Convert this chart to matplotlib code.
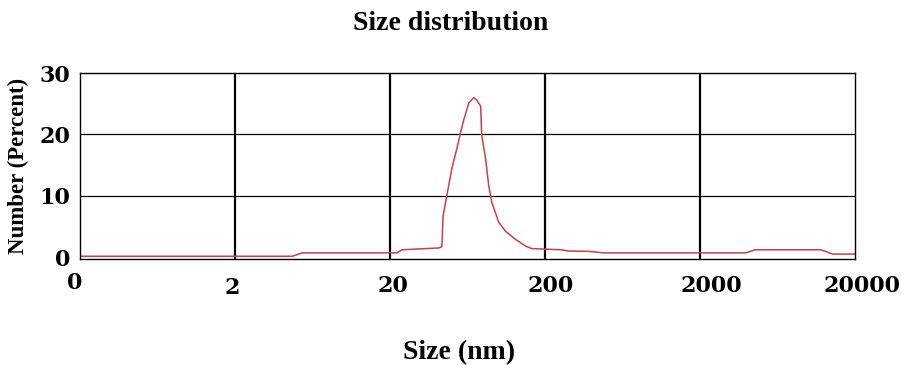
import matplotlib
matplotlib.use("Agg")
import matplotlib.pyplot as plt
from matplotlib.ticker import FixedLocator, FixedFormatter, NullLocator, NullFormatter

size_nm = [0.2, 4.69, 5.43, 22.2, 23.9, 41.3, 43.2, 44.0, 46.5, 50.1, 54.0, 57.3,
           59.9, 64.4, 69.4, 72.5, 76.9, 78.1, 82.8, 86.7, 90.6, 100.5, 111.4,
           129, 150, 164, 255, 283, 381, 476, 3954, 4520, 12000, 12900, 14300, 20000]
number_pct = [0.15, 0.15, 0.7, 0.7, 1.2, 1.5, 1.7, 6.7, 10.0, 14.4, 17.7, 20.5,
              22.4, 25.1, 26.0, 25.6, 24.6, 19.9, 16.0, 11.6, 9.0, 5.7, 4.2,
              2.9, 1.8, 1.4, 1.2, 1.0, 0.95, 0.7, 0.7, 1.2, 1.2, 0.95, 0.5, 0.5]

x_ticks = [0.2, 2, 20, 200, 2000, 20000]
x_tick_labels = ["0", "2", "20", "200", "2000", "20000"]
y_ticks = [0, 10, 20, 30]
y_tick_labels = ["0", "10", "20", "30"]

# small pixel nudges of x tick labels as in the reference (dx, dy; dy>0 = lower)
x_label_nudge = [(-5, -3), (-2.5, 2), (2.5, 0), (6, 0), (11, 0), (7, 0)]

plt.rcParams['font.family'] = ['Liberation Serif', 'DejaVu Serif']

fig = plt.figure(figsize=(9.01, 3.65), dpi=100)
ax = fig.add_axes([80/901, 1-259/365, (855-80)/901, (259-73)/365])
ax.plot(size_nm, number_pct, color="#c8404a", lw=1.1)
ax.set_xscale("log")
ax.set_xlim(0.2, 20000)
ax.set_ylim(-0.3, 30)

ax.xaxis.set_major_locator(FixedLocator(x_ticks))
ax.xaxis.set_major_formatter(NullFormatter())
ax.xaxis.set_minor_locator(NullLocator())
ax.xaxis.set_minor_formatter(NullFormatter())
ax.yaxis.set_major_locator(FixedLocator(y_ticks))
ax.yaxis.set_major_formatter(FixedFormatter(y_tick_labels))

for xt in x_ticks[1:-1]:
    ax.axvline(xt, color="black", lw=1.6, zorder=1)
for yt in [10, 20]:
    ax.axhline(yt, color="black", lw=0.9, zorder=1)

ax.tick_params(axis='both', length=0)
ax.tick_params(axis='y', pad=7)
for lab in ax.get_yticklabels():
    lab.set_fontweight("bold")
    lab.set_fontfamily("DejaVu Serif")
    lab.set_fontsize(16)

xform = ax.get_xaxis_transform()
for xt, lbl, (dx, dy) in zip(x_ticks, x_tick_labels, x_label_nudge):
    ax.annotate(lbl, xy=(xt, 0), xycoords=xform,
                xytext=(dx * 0.72, -(16 + dy) * 0.72), textcoords="offset points",
                ha="center", va="top", fontsize=16, fontweight="bold",
                fontfamily="DejaVu Serif", annotation_clip=False)

for s in ax.spines.values():
    s.set_color("black")
    s.set_linewidth(1.0)

fig.text(451/901, 1-23/365, "Size distribution", ha="center", va="center",
         fontsize=20, fontweight="bold")
fig.text(459/901, 1-353/365, "Size (nm)", ha="center", va="center",
         fontsize=20, fontweight="bold")
fig.text(18/901, 1-166/365, "Number (Percent)", ha="center", va="center",
         fontsize=16.5, fontweight="bold", rotation=90)

fig.savefig("out.png", dpi=100)
